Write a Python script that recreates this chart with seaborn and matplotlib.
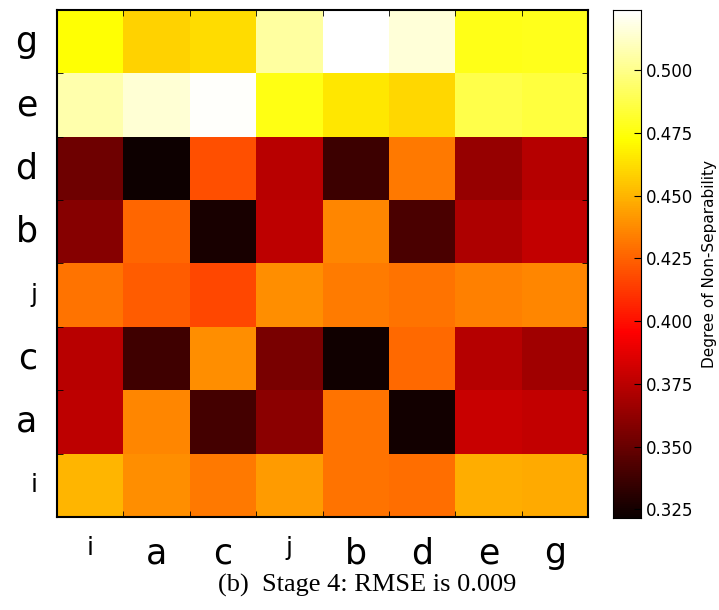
import numpy as np
import pandas as pd
import matplotlib
matplotlib.use("Agg")
import matplotlib.pyplot as plt
import seaborn as sns

# orden de filas (arriba -> abajo) y columnas
filas = ["g", "e", "d", "b", "j", "c", "a", "i"]
columnas = ["i", "a", "c", "j", "b", "d", "e", "g"]

# grado de no separabilidad
fila_g = [0.473, 0.459, 0.462, 0.505, 0.524, 0.516, 0.477, 0.478]
fila_e = [0.507, 0.515, 0.523, 0.476, 0.465, 0.460, 0.487, 0.485]
fila_d = [0.352, 0.323, 0.419, 0.374, 0.337, 0.432, 0.364, 0.373]
fila_b = [0.359, 0.426, 0.326, 0.376, 0.436, 0.341, 0.371, 0.377]
fila_j = [0.430, 0.423, 0.417, 0.438, 0.433, 0.430, 0.434, 0.436]
fila_c = [0.374, 0.338, 0.438, 0.355, 0.3235, 0.427, 0.373, 0.367]
fila_a = [0.376, 0.436, 0.339, 0.361, 0.430, 0.324, 0.379, 0.377]
fila_i = [0.450, 0.438, 0.432, 0.442, 0.430, 0.429, 0.448, 0.447]

ticks_cbar = [0.325, 0.350, 0.375, 0.400, 0.425, 0.450, 0.475, 0.500]

df = pd.DataFrame([fila_g, fila_e, fila_d, fila_b, fila_j, fila_c, fila_a, fila_i],
                  index=filas, columns=columnas)

fig = plt.figure(figsize=(7.19, 6.10), dpi=100)
ax = fig.add_axes([0.0793, 0.1525, 0.7385, 0.8311])
cax = fig.add_axes([0.8526, 0.1508, 0.039, 0.8328])

sns.heatmap(df, cmap="hot", vmin=0.3216, vmax=0.524, ax=ax, cbar_ax=cax,
            cbar_kws={"ticks": ticks_cbar, "format": "%.3f"})

# marco negro y ticks en los bordes de las celdas
for s in ax.spines.values():
    s.set_visible(True)
    s.set_color("black")
    s.set_linewidth(1.5)
ax.set_xticks(np.arange(1, 8), minor=True)
ax.set_yticks(np.arange(1, 8), minor=True)
ax.tick_params(which="minor", direction="in", length=4, top=True, right=True,
               bottom=True, left=True, color="black")
ax.tick_params(which="major", length=0, pad=14)
ax.set_xticklabels(columnas, fontsize=25, rotation=0)
ax.set_yticklabels(filas, fontsize=25, rotation=0)
# en la figura original "i" y "j" salen mas pequenas
for t in ax.get_xticklabels() + ax.get_yticklabels():
    if t.get_text() in ("i", "j"):
        t.set_fontsize(18)
ax.set_xlabel("")
ax.set_ylabel("")

cax.tick_params(labelsize=12, direction="in", length=5)
for s in cax.spines.values():
    s.set_visible(True)
    s.set_color("black")
cax.set_ylabel("Degree of Non-Separability", fontsize=11, labelpad=6)

fig.text(0.51, 0.04, "(b)  Stage 4: RMSE is 0.009", ha="center", va="center",
         fontsize=19, family="Liberation Serif")

plt.savefig("out.png", dpi=100)
